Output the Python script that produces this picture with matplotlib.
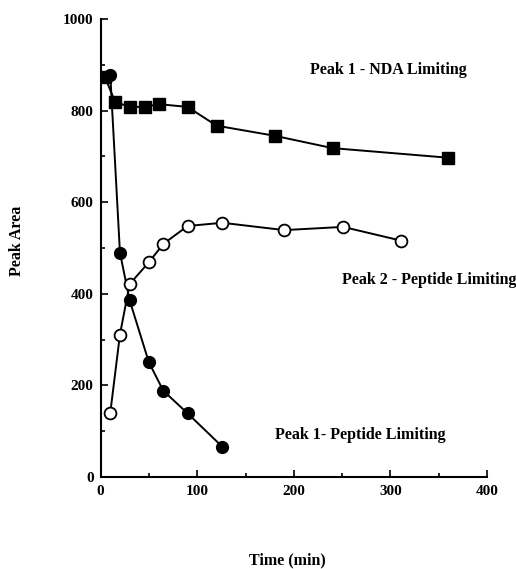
import matplotlib

matplotlib.use("Agg")
import matplotlib.pyplot as plt
from matplotlib.ticker import MultipleLocator

# Peak 1 - NDA limiting (filled squares)
nda_time = [4.5, 15, 30, 46, 60, 90, 120, 180, 240, 360]
nda_area = [873, 819, 808, 808, 814, 808, 767, 745, 718, 697]

# Peak 1 - peptide limiting (filled circles)
pep1_time = [10, 20, 30, 50, 65, 90, 126]
pep1_area = [878, 490, 386, 250, 188, 139, 66]

# Peak 2 - peptide limiting (open circles)
pep2_time = [10, 20, 30, 50, 65, 90, 126, 190, 251, 311]
pep2_area = [140, 311, 421, 469, 509, 548, 555, 539, 546, 516]

plt.rcParams["font.family"] = ["Liberation Serif", "DejaVu Serif"]
plt.rcParams["font.weight"] = "bold"

fig = plt.figure(figsize=(5.16, 5.69), dpi=100)
ax = fig.add_axes([0.195, 0.1617, 0.749, 0.805])

ax.plot(nda_time, nda_area, color="black", linewidth=1.4, marker="s",
        markersize=9, markerfacecolor="black", markeredgecolor="black")
ax.plot(pep1_time, pep1_area, color="black", linewidth=1.4, marker="o",
        markersize=8.5, markerfacecolor="black", markeredgecolor="black")
ax.plot(pep2_time, pep2_area, color="black", linewidth=1.4, marker="o",
        markersize=8.5, markerfacecolor="white", markeredgecolor="black",
        markeredgewidth=1.3)

ax.text(217, 889, "Peak 1 - NDA Limiting", fontsize=11.5, fontweight="bold",
        va="center", ha="left")
ax.text(250, 430, "Peak 2 - Peptide Limiting", fontsize=11.5,
        fontweight="bold", va="center", ha="left", clip_on=False)
ax.text(180, 92, "Peak 1- Peptide Limiting", fontsize=11.5, fontweight="bold",
        va="center", ha="left")

ax.set_xlim(0, 400)
ax.set_ylim(0, 1000)
ax.xaxis.set_major_locator(MultipleLocator(100))
ax.xaxis.set_minor_locator(MultipleLocator(50))
ax.yaxis.set_major_locator(MultipleLocator(200))
ax.yaxis.set_minor_locator(MultipleLocator(100))
ax.tick_params(which="both", direction="in", width=1.2, labelsize=11)
ax.tick_params(which="major", length=5)
ax.tick_params(which="minor", length=3)
ax.tick_params(axis="x", pad=6)
ax.tick_params(axis="y", pad=5)

for side in ["top", "right"]:
    ax.spines[side].set_visible(False)
for side in ["left", "bottom"]:
    ax.spines[side].set_linewidth(1.5)

for lbl in ax.get_xticklabels() + ax.get_yticklabels():
    lbl.set_fontweight("bold")

ax.set_xlabel("Time (min)", fontsize=11.5, fontweight="bold", va="center")
ax.xaxis.set_label_coords(0.482, -0.183)
ax.set_ylabel("Peak Area", fontsize=11.5, fontweight="bold", va="center")
ax.yaxis.set_label_coords(-0.217, 0.515)

fig.savefig("out.png", dpi=100)
